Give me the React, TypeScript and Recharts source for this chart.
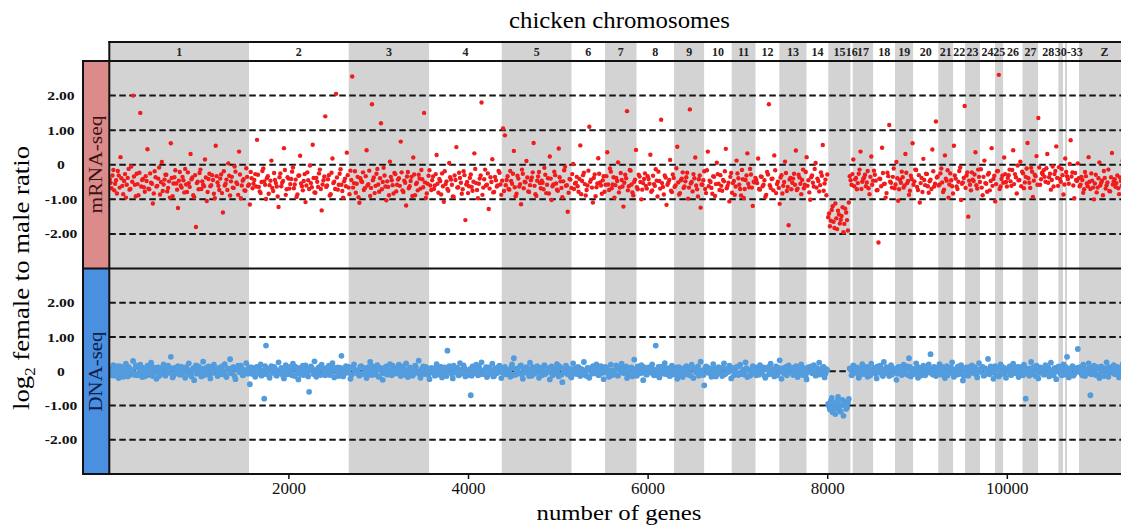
import React from "react";
import {
  ScatterChart,
  Scatter,
  XAxis,
  YAxis,
  ReferenceArea,
  ReferenceLine,
} from "recharts";

// chromosome bands, start gene index of each one (ordered along the genome)
const chromosomeNames = [
  "1", "2", "3", "4", "5", "6", "7", "8", "9", "10", "11", "12", "13", "14", "15", "16", "17",
  "18", "19", "20", "21", "22", "23", "24", "25", "26", "27", "28", "30", "31", "32", "33", "Z",
];
const chromosomeStarts = [
  0, 1556, 2666, 3563, 4370, 5149, 5520, 5873, 6288, 6626, 6931, 7198, 7461, 7766, 8006, 8255, 8278,
  8508, 8749, 8953, 9231, 9398, 9529, 9696, 9863, 9955, 10169, 10345, 10568, 10620, 10642, 10665, 10798,
];
const GENE_MAX = 11366;
// the small chromosomes share one label in the header
const groupedLabels = [{ label: "30-33", from: "30", to: "33" }];

const ratioTicks = [2, 1, 0, -1, -2];
const geneTicks = [2000, 4000, 6000, 8000, 10000];

// log2 female/male ratios, read every GENE_STEP genes; the "B" lists sit halfway between
const GENE_STEP = 20;

const mrnaRatiosA = [
  -0.42, -0.68, -0.15, -0.55, -0.83, -0.31, 0.22, -0.61, -0.47, -0.95, -0.38, -0.72, -0.05, 2.0, -0.58, -0.26, -0.88, 1.5, -0.44, -0.65,
  -0.33, 0.45, -0.71, -0.52, -1.12, -0.19, -0.63, -0.4, -0.86, 0.08, -0.57, -0.29, -0.77, -0.48, 0.62, -0.91, -0.36, -0.54, -1.25, -0.21,
  -0.66, -0.45, -0.12, -0.79, -0.53, 0.31, -0.37, -0.94, -1.8, -0.49, -0.24, -0.7, -0.58, 0.15, -1.05, -0.41, -0.62, -0.3, -0.84, 0.55,
  -0.51, -0.73, -0.28, -1.38, -0.6, -0.43, 0.04, -0.89, -0.35, -0.67, -0.2, -0.56, 0.38, -0.97, -0.46, -0.74, -0.1, -0.61, -1.15, -0.39,
  -0.55, -0.27, 0.72, -0.64, -0.82, -0.18, -0.48, -0.99, -0.33, -0.59, 0.12, -0.76, -0.44, -0.63, -1.22, -0.25, -0.52, 0.48, -0.87, -0.36,
  -0.69, -0.41, -0.08, -0.57, -0.93, -0.32, 0.26, -0.62, -0.47, -1.08, -0.22, -0.7, -0.53, 0.58, -0.8, -0.38, -0.64, -0.14, -1.32, -0.45,
  1.4, -0.6, -0.3, -0.85, 0.18, -0.49, 2.05, -0.72, -0.26, -0.58, -0.95, -0.4, 0.35, -0.66, -0.17, 2.55, -0.53, -0.81, -0.35, -1.1,
  -0.47, -0.22, -0.68, 0.42, -0.56, -0.9, 1.75, -0.37, -0.61, -0.12, -0.78, 1.2, -0.5, -0.31, -1.03, -0.64, 0.09, -0.45, -0.83, -0.27,
  -0.58, -0.39, 0.67, -0.74, -0.46, -1.18, -0.21, -0.62, -0.35, 0.21, -0.88, -0.52, -0.29, -0.69, -0.42, 1.5, -0.96, -0.55, -0.16, -0.73,
  -0.34, -0.6, 0.28, -0.81, -0.47, -0.25, -1.07, -0.56, -0.7, 0.05, -0.43, -0.92, -0.31, 0.51, -0.65, -0.38, -0.84, -0.19, -1.6, -0.5,
  -0.62, -0.28, -0.75, 0.33, -0.53, -0.97, -0.4, 1.8, -0.66, -0.14, -0.58, -1.28, -0.36, 0.16, -0.79, -0.45, -0.6, -0.23, -0.87, 1.05,
  0.85, -0.44, -0.7, -0.18, -0.55, 0.4, -0.91, -0.32, -0.63, -1.14, -0.26, -0.49, 0.11, -0.77, -0.59, -0.37, 0.63, -0.85, -0.46, -0.21,
  -0.68, -0.52, -0.09, -0.82, -0.39, 0.24, -1.02, -0.57, -0.3, -0.72, 0.47, -0.48, -0.94, -0.16, -0.61, -1.36, -0.41, -0.67, 0.02, -0.54,
  -0.35, -0.78, 0.56, -0.47, -0.23, -0.89, -0.6, 1.1, -0.43, -1.09, -0.28, -0.65, 0.19, -0.51, -0.84, -0.33, -0.58, 0.36, -0.73, -0.2,
  -0.57, -0.95, -0.38, 0.07, -0.66, -0.44, -1.21, -0.29, 1.55, -0.62, -0.17, -0.8, -0.49, 0.43, -0.71, -0.34, -1.0, -0.53, -0.25, -0.69,
  -0.41, 0.29, -0.74, -0.56, -0.13, -0.92, -0.47, 1.3, -0.64, -0.31, -1.16, -0.52, 0.14, -0.79, -0.38, -0.6, 0.52, -0.86, -0.45, -0.22,
  -0.63, -0.36, -0.98, 1.6, -0.5, -0.27, 0.21, -0.71, -0.42, -1.24, -0.58, -0.19, -0.82, 0.38, -0.46, -0.67, -0.33, -0.9, 0.06, -0.55,
  -0.3, -0.75, -0.48, 0.46, -0.61, -1.06, -0.24, -0.53, -0.87, 0.12, -0.39, -0.7, -0.15, -0.96, -0.44, 0.33, -0.65, -0.28, -1.19, -0.51,
  -0.44, 0.18, -0.72, -0.35, -0.58, -0.93, -0.21, 1.75, -0.67, -0.4, 0.27, -0.82, -0.49, -1.13, -0.3, -0.61, 0.09, -0.76, -1.75, -0.38,
  -0.52, -0.26, 0.41, -0.69, -0.37, -0.85, -0.14, -0.58, 0.22, -0.45, -1.01, -0.31, -0.63, 0.05, -0.4, -0.77, -0.22, 0.57, -0.54, -0.88,
  -1.52, -1.78, -1.31, -1.65, -1.12, -1.86, -1.44, -1.59, -1.23, -1.71, -1.38, -1.9, -0.33, -0.58, 0.15, -0.42, -0.71, -0.26, 0.38, -0.49,
  -0.37, -0.62, -0.18, -0.85, 0.24, -0.46, -0.29, -0.74, -2.25, -0.41, 0.49, -0.56, -0.95, -0.23, 1.15, -0.52, -0.35, -0.68, 0.08, -1.04,
  -0.44, -0.2, -0.66, 0.31, -0.53, -0.87, -0.32, 0.62, -0.48, -0.15, -0.73, -1.09, -0.38, 0.17, -0.59, -0.27, -0.81, -0.43, 0.44, -0.63,
  1.25, -0.34, -0.57, -0.11, -0.79, 0.27, -0.46, -0.95, -0.25, -0.62, 0.55, -0.4, -0.7, -0.18, -1.02, -0.51, 1.7, -0.31, -1.5, -0.58,
  -0.22, -0.47, 0.36, -0.69, -0.35, -0.13, -0.88, 0.12, -0.55, -0.28, -0.74, 0.48, -0.41, -1.06, -0.19, 2.6, -0.63, -0.32, 0.21, -0.5,
  -0.38, -0.14, -0.61, 0.42, -0.27, -0.83, -0.45, 0.09, -0.2, -0.68, -0.35, 0.63, -0.52, -0.09, -0.93, -0.29, 0.25, 1.35, -0.58, -0.24,
  -0.16, -0.49, 0.31, -0.36, -0.72, -0.05, -0.27, 0.53, -0.61, -0.41, -0.12, -0.86, 0.18, -0.33, -0.55, 0.71, -0.22, -0.97, -0.44, 0.04,
  -0.62, -0.35, -0.81, -0.21, -0.54, 0.22, -0.7, -0.46, -1.0, -0.29, -0.66, 0.07, -0.52, -0.88, -0.38, -0.59, -0.14, -0.77, 0.34, -0.48,
  -0.64, -0.31, -0.85, -0.47, 0.12, -0.57, -0.73, -0.4,
];

const mrnaRatiosB = [
  -0.52, -0.31, -0.74, -0.45, -0.18, -0.66, -0.39, -0.85, -0.27, -0.58, -0.12, -0.7, -0.49, -0.34, -0.91, -0.56, -0.23, -0.63, -0.41, -0.78,
  -0.47, -0.69, -0.25, -0.55, -0.83, -0.36, -0.61, -0.08, -0.5, -0.76, -0.43, -0.29, -0.67, -0.95, -0.38, -0.54, -0.16, -0.72, -0.46, -0.6,
  -0.35, -0.8, -0.57, -0.22, -0.64, -0.42, -0.88, -0.3, -0.53, -0.71, -0.14, -0.48, -0.62, -0.37, -0.79, -0.26, -0.59, -0.44, -0.97, -0.33,
  -0.61, -0.4, -0.82, -0.19, -0.55, -0.73, -0.32, -0.48, -0.66, -0.05, -0.51, -0.87, -0.28, -0.6, -0.42, -0.75, -0.35, -0.57, -0.21, -0.68,
  -0.44, -0.63, -0.29, -0.77, -0.5, -0.11, -0.58, -0.39, -0.84, -0.46, -0.67, -0.24, -0.53, -0.92, -0.36, -0.62, -0.47, -0.15, -0.71, -0.4,
  -0.56, -0.2, -0.68, -0.43, -0.86, -0.31, -0.54, -0.74, -0.27, -0.6, -0.45, -0.02, -0.65, -0.38, -0.81, -0.49, -0.25, -0.7, -0.57, -0.34,
  -0.64, -0.42, -0.89, -0.23, -0.53, -0.7, -0.37, -0.58, -0.13, -0.76, -0.48, -0.62, -0.3, -0.85, -0.44, -0.66, -0.19, -0.55, -0.94, -0.39,
  -0.5, -0.73, -0.33, -0.6, -0.17, -0.67, -0.45, -0.82, -0.26, -0.57, -0.39, -0.71, -0.09, -0.63, -0.48, -0.88, -0.35, -0.59, -0.24, -0.77,
  -0.43, -0.61, -0.22, -0.79, -0.52, -0.34, -0.68, -0.47, -0.9, -0.28, -0.56, -0.74, -0.4, -0.15, -0.65, -0.51, -0.83, -0.32, -0.6, -0.45,
  -0.7, -0.27, -0.55, -0.41, -0.86, -0.62, -0.19, -0.48, -0.75, -0.36, -0.58, -0.93, -0.44, -0.66, -0.23, -0.52, -0.71, -0.3, -0.57, -0.82,
  -0.38, -0.64, -0.49, -0.12, -0.73, -0.55, -0.31, -0.87, -0.42, -0.6, -0.25, -0.69, -0.5, -0.8, -0.35, -0.63, -0.18, -0.57, -0.46, -0.76,
  -0.59, -0.33, -0.72, -0.47, -0.26, -0.65, -0.84, -0.4, -0.56, -0.14, -0.68, -0.51, -0.37, -0.79, -0.45, -0.22, -0.61, -0.9, -0.34, -0.53,
  -0.46, -0.71, -0.29, -0.58, -0.83, -0.4, -0.62, -0.2, -0.54, -0.75, -0.36, -0.67, -0.48, -0.06, -0.59, -0.81, -0.43, -0.27, -0.7, -0.52,
  -0.62, -0.41, -0.85, -0.3, -0.56, -0.73, -0.17, -0.49, -0.66, -0.38, -0.91, -0.54, -0.26, -0.6, -0.45, -0.78, -0.33, -0.57, -0.11, -0.68,
  -0.36, -0.59, -0.47, -0.8, -0.24, -0.63, -0.52, -0.39, -0.74, -0.15, -0.57, -0.88, -0.43, -0.65, -0.29, -0.5, -0.72, -0.41, -0.61, -0.33,
  -0.55, -0.78, -0.32, -0.61, -0.46, -0.2, -0.69, -0.53, -0.86, -0.37, -0.58, -0.44, -0.75, -0.28, -0.64, -0.1, -0.51, -0.82, -0.4, -0.67,
  -0.48, -0.23, -0.66, -0.54, -0.77, -0.39, -0.6, -0.92, -0.31, -0.57, -0.45, -0.7, -0.16, -0.62, -0.5, -0.84, -0.35, -0.56, -0.27, -0.73,
  -0.61, -0.44, -0.19, -0.68, -0.52, -0.35, -0.81, -0.47, -0.63, -0.25, -0.58, -0.89, -0.42, -0.7, -0.31, -0.55, -0.12, -0.66, -0.49, -0.38,
  -0.53, -0.7, -0.34, -0.62, -0.45, -0.87, -0.28, -0.59, -0.41, -0.74, -0.16, -0.56, -0.67, -0.37, -0.83, -0.5, -0.24, -0.64, -0.43, -0.71,
  -0.4, -0.58, -0.73, -0.29, -0.55, -0.44, -0.68, -0.21, -0.61, -0.8, -0.36, -0.52, -0.12, -0.66, -0.47, -0.59, -0.32, -0.75, -0.43, -0.28,
  -1.41, -1.62, -1.2, -1.83, -1.55, -1.33, -1.7, -1.48, -1.95, -1.27, -1.6, -1.09, -0.45, -0.27, -0.62, -0.38, -0.53, -0.14, -0.7, -0.41,
  -0.29, -0.51, -0.68, -0.35, -0.58, -0.17, -0.46, -0.73, -0.4, -0.62, -0.24, -0.55, -0.82, -0.33, -0.49, -0.66, -0.11, -0.57, -0.39, -0.71,
  -0.52, -0.36, -0.6, -0.23, -0.47, -0.75, -0.41, -0.58, -0.14, -0.64, -0.3, -0.53, -0.79, -0.44, -0.26, -0.62, -0.48, -0.7, -0.19, -0.55,
  -0.37, -0.6, -0.25, -0.51, -0.72, -0.4, -0.16, -0.57, -0.45, -0.83, -0.31, -0.63, -0.49, -0.08, -0.55, -0.38, -0.67, -0.22, -0.46, -0.74,
  -0.43, -0.28, -0.59, -0.14, -0.5, -0.66, -0.35, -0.53, -0.78, -0.24, -0.47, -0.61, -0.32, -0.56, -0.18, -0.7, -0.41, -0.52, -0.27, -0.63,
  -0.3, -0.48, -0.15, -0.56, -0.36, -0.02, -0.44, -0.62, -0.25, -0.51, -0.11, -0.39, -0.67, -0.2, -0.46, -0.33, -0.58, -0.08, -0.42, -0.28,
  -0.35, -0.1, -0.52, -0.26, -0.44, -0.63, -0.18, -0.38, -0.07, -0.49, -0.3, -0.57, -0.21, -0.41, 0.02, -0.34, -0.6, -0.24, -0.47, -0.39,
  -0.58, -0.44, -0.71, -0.33, -0.62, -0.49, -0.25, -0.66, -0.54, -0.8, -0.39, -0.6, -0.46, -0.18, -0.69, -0.51, -0.76, -0.36, -0.57, -0.42,
  -0.53, -0.68, -0.37, -0.61, -0.45, -0.78, -0.29, -0.56,
];

const dnaRatiosA = [
  0.05, -0.12, 0.18, -0.03, 0.09, -0.2, 0.14, 0.01, -0.08, 0.22, -0.15, 0.07, -0.02, 0.3, -0.11, 0.12, -0.06, 0.19, -0.17, 0.03,
  -0.09, 0.16, -0.01, 0.25, -0.14, 0.08, -0.22, 0.11, 0.02, -0.07, 0.2, -0.13, 0.06, -0.04, 0.42, -0.18, 0.1, -0.05, 0.15, -0.1,
  0.13, -0.02, -0.19, 0.07, 0.23, -0.11, 0.04, -0.26, 0.17, -0.06, 0.09, -0.15, 0.28, 0.0, -0.09, 0.14, -0.21, 0.05, 0.19, -0.03,
  -0.14, 0.1, 0.02, -0.08, 0.21, -0.17, 0.06, 0.35, -0.04, 0.12, -0.23, 0.08, -0.01, 0.16, -0.12, 0.03, 0.24, -0.07, -0.38, 0.11,
  0.04, -0.16, 0.13, -0.05, 0.2, -0.1, -0.8, 0.75, 0.07, -0.19, 0.15, -0.02, 0.09, -0.13, 0.26, -0.06, 0.01, -0.21, 0.18, -0.09,
  0.12, -0.04, 0.22, -0.14, 0.06, -0.24, 0.1, 0.03, -0.11, 0.17, -0.07, -0.6, 0.14, -0.01, 0.29, -0.16, 0.08, -0.09, 0.19, -0.03,
  -0.12, 0.07, 0.16, -0.06, 0.24, -0.18, 0.02, 0.11, -0.09, 0.45, -0.15, 0.05, -0.02, 0.13, -0.22, 0.09, 0.2, -0.05, 0.01, -0.13,
  0.15, -0.08, 0.04, -0.2, 0.12, 0.27, -0.11, 0.06, -0.03, 0.18, -0.16, 0.09, -0.25, 0.02, 0.14, -0.07, 0.21, -0.12, 0.05, -0.01,
  -0.06, 0.19, -0.14, 0.08, -0.02, 0.23, -0.17, 0.11, 0.03, -0.1, 0.16, -0.04, 0.31, -0.19, 0.07, -0.08, 0.13, 0.0, -0.23, 0.1,
  0.08, -0.13, 0.21, -0.05, 0.12, -0.18, 0.03, -0.09, 0.6, 0.15, -0.02, -0.21, 0.1, 0.05, -0.11, 0.24, -0.06, 0.17, -0.15, 0.01,
  -0.1, -0.7, 0.14, -0.03, 0.19, -0.12, 0.07, 0.26, -0.08, 0.02, -0.17, 0.11, -0.05, 0.22, -0.14, 0.06, -0.01, 0.16, -0.2, 0.09,
  0.13, -0.06, 0.02, -0.16, 0.2, 0.38, -0.1, 0.08, -0.03, 0.17, -0.22, 0.05, 0.12, -0.08, 0.25, -0.13, 0.01, -0.04, 0.15, -0.19,
  0.06, -0.11, 0.18, -0.02, 0.09, -0.24, 0.14, 0.04, -0.07, 0.21, -0.15, 0.1, -0.32, 0.03, 0.16, -0.09, 0.07, -0.18, 0.23, -0.05,
  -0.08, 0.12, -0.14, 0.05, 0.27, -0.03, 0.1, -0.19, 0.01, 0.15, -0.06, 0.2, -0.11, 0.08, -0.01, -0.23, 0.13, 0.04, -0.16, 0.19,
  0.02, -0.09, 0.17, -0.13, 0.06, 0.22, -0.05, 0.11, -0.2, 0.09, 0.03, -0.15, 0.34, -0.07, 0.14, -0.02, 0.18, -0.26, 0.07, -0.1,
  0.11, -0.04, 0.2, -0.12, 0.75, 0.05, -0.18, 0.13, -0.07, 0.24, -0.01, 0.09, -0.14, 0.16, -0.09, 0.03, -0.22, 0.12, 0.06, -0.17,
  -0.05, 0.15, -0.1, 0.07, 0.19, -0.2, 0.02, 0.1, -0.13, 0.28, -0.06, -0.41, 0.14, -0.02, 0.08, -0.16, 0.21, 0.04, -0.09, 0.12,
  0.07, -0.14, 0.23, -0.06, 0.01, 0.16, -0.21, 0.09, -0.03, 0.13, -0.11, 0.19, -0.08, 0.05, 0.26, -0.17, 0.03, -0.1, 0.15, -0.02,
  -0.12, 0.08, 0.18, -0.04, 0.11, -0.19, 0.06, -0.09, 0.22, 0.0, -0.15, 0.14, -0.06, 0.32, -0.22, 0.09, 0.04, -0.12, 0.17, -0.03,
  0.1, -0.07, 0.15, -0.17, 0.05, 0.2, -0.11, 0.02, -0.24, 0.12, 0.07, -0.05, 0.18, -0.13, 0.03, 0.25, -0.09, 0.11, -0.18, 0.06,
  -0.95, -1.12, -0.78, -1.05, -1.25, -0.88, -1.01, -1.18, -0.84, -0.97, -1.1, -0.92, 0.08, -0.12, 0.17, -0.05, 0.11, -0.19, 0.04, 0.21,
  -0.08, 0.13, -0.16, 0.06, 0.22, -0.03, 0.1, -0.21, 0.01, 0.16, -0.1, 0.27, -0.06, 0.09, -0.14, 0.18, -0.01, 0.05, -0.25, 0.12,
  0.03, -0.11, 0.19, -0.07, 0.14, 0.38, -0.15, 0.07, -0.02, 0.23, -0.19, 0.1, -0.05, 0.16, -0.12, 0.04, 0.2, 0.5, -0.08, 0.13,
  -0.14, 0.06, 0.21, -0.1, 0.02, -0.2, 0.15, 0.09, -0.04, 0.26, -0.16, 0.05, 0.12, -0.08, 0.18, -0.27, 0.01, 0.11, -0.13, 0.07,
  0.17, -0.06, 0.09, -0.18, 0.24, -0.01, 0.13, -0.12, 0.05, 0.36, -0.09, 0.02, -0.22, 0.15, 0.07, -0.15, 0.2, -0.03, 0.1, -0.19,
  0.04, 0.14, -0.11, 0.22, -0.05, 0.08, -0.17, 0.12, -0.02, 0.19, -0.8, 0.06, -0.13, 0.27, -0.08, 0.03, 0.16, -0.21, 0.11, -0.04,
  -0.1, 0.18, 0.01, -0.15, 0.25, -0.06, 0.09, -0.23, 0.13, 0.04, -0.12, 0.2, -0.03, 0.42, -0.18, 0.07, 0.15, -0.09, 0.02, 0.65,
  0.12, -0.07, 0.19, -0.14, 0.05, 0.23, -0.7, -0.02, 0.16, -0.11, 0.08, -0.2, 0.14, 0.01, -0.06, 0.26, -0.16, 0.1, -0.04, 0.18,
  -0.09, 0.13, -0.18, 0.06, 0.21, -0.02, 0.11, -0.14,
];

const dnaRatiosB = [
  -0.04, 0.09, -0.13, 0.02, 0.15, -0.08, 0.06, -0.16, 0.11, -0.01, 0.13, -0.1, 0.04, -0.06, 0.17, -0.12, 0.08, -0.03, 0.1, -0.15,
  0.07, -0.11, 0.03, 0.14, -0.06, 0.1, -0.02, -0.14, 0.05, 0.12, -0.09, 0.01, 0.16, -0.05, 0.08, -0.13, 0.03, 0.11, -0.07, 0.04,
  -0.1, 0.06, 0.12, -0.04, 0.02, -0.15, 0.09, 0.01, -0.07, 0.14, -0.02, 0.07, -0.12, 0.1, 0.03, -0.08, 0.13, -0.05, 0.0, 0.08,
  0.05, -0.09, 0.14, -0.02, -0.12, 0.08, 0.03, -0.06, 0.11, -0.14, 0.06, 0.16, -0.03, 0.09, -0.1, 0.02, -0.05, 0.12, 0.04, -0.08,
  -0.03, 0.11, -0.07, 0.06, -0.13, 0.02, 0.15, -0.09, 0.04, 0.09, -0.05, 0.13, -0.11, 0.01, -0.02, 0.1, -0.14, 0.07, -0.04, 0.12,
  0.02, -0.12, 0.08, 0.13, -0.06, 0.04, -0.1, 0.16, -0.01, 0.07, -0.15, 0.05, 0.1, -0.08, 0.03, -0.03, 0.12, -0.11, 0.06, 0.0,
  0.09, -0.05, -0.11, 0.04, 0.12, -0.02, 0.07, -0.14, 0.1, 0.01, -0.08, 0.15, -0.04, 0.06, -0.12, 0.11, -0.01, 0.03, -0.09, 0.13,
  -0.06, 0.1, 0.02, -0.12, 0.07, -0.03, 0.14, -0.09, 0.05, -0.15, 0.09, 0.0, -0.06, 0.12, -0.1, 0.04, -0.02, 0.16, -0.07, 0.08,
  0.11, -0.07, 0.05, 0.15, -0.11, 0.03, -0.04, 0.09, -0.13, 0.06, 0.12, -0.02, -0.09, 0.04, 0.14, -0.06, 0.08, -0.12, 0.02, -0.03,
  -0.02, 0.08, -0.1, 0.03, 0.13, -0.06, 0.11, -0.14, 0.01, 0.07, -0.08, 0.16, -0.04, 0.1, -0.12, 0.05, -0.01, 0.09, 0.02, -0.11,
  0.06, -0.13, 0.1, -0.05, 0.04, 0.14, -0.09, 0.02, -0.03, 0.12, -0.11, 0.07, 0.01, -0.15, 0.09, -0.06, 0.13, -0.02, 0.05, -0.08,
  -0.09, 0.04, -0.01, 0.11, -0.12, 0.07, 0.03, -0.06, 0.15, -0.1, 0.05, -0.03, 0.09, -0.14, 0.02, 0.12, -0.07, 0.08, -0.02, 0.1,
  0.03, 0.13, -0.08, 0.05, -0.02, 0.1, -0.12, 0.08, 0.01, -0.06, 0.14, -0.1, 0.04, -0.04, 0.11, 0.0, -0.13, 0.06, -0.07, 0.09,
  0.12, -0.04, 0.07, -0.1, 0.02, -0.14, 0.09, 0.04, -0.07, 0.13, -0.02, 0.06, -0.11, 0.15, -0.05, 0.03, 0.1, -0.08, 0.01, -0.12,
  -0.07, 0.05, -0.12, 0.1, -0.01, 0.08, -0.05, 0.14, -0.1, 0.03, 0.11, -0.03, 0.06, -0.13, 0.09, -0.06, 0.02, 0.12, -0.09, 0.04,
  0.01, 0.1, -0.06, 0.04, -0.11, 0.13, -0.02, 0.07, 0.15, -0.08, 0.05, -0.13, 0.02, 0.09, -0.04, 0.11, -0.1, 0.06, -0.01, 0.08,
  0.09, -0.08, 0.03, -0.13, 0.11, 0.05, -0.04, 0.14, -0.07, 0.02, -0.11, 0.08, 0.12, -0.05, 0.04, -0.09, 0.07, -0.15, 0.1, -0.01,
  -0.05, 0.11, -0.09, 0.06, -0.02, 0.12, 0.03, -0.12, 0.08, -0.06, 0.15, -0.03, 0.01, -0.1, 0.09, 0.04, -0.13, 0.07, -0.04, 0.11,
  0.04, -0.1, 0.09, 0.02, -0.14, 0.06, 0.12, -0.03, 0.07, -0.09, 0.03, -0.12, 0.1, -0.01, 0.05, -0.07, 0.13, -0.05, 0.08, 0.0,
  -0.11, 0.07, -0.03, 0.12, -0.08, 0.02, 0.09, -0.13, 0.05, -0.02, 0.14, -0.06, 0.01, 0.1, -0.1, 0.06, -0.04, 0.13, -0.07, 0.03,
  -1.03, -0.86, -1.2, -0.93, -1.08, -0.75, -1.15, -0.99, -1.3, -0.9, -1.06, -0.81, 0.05, -0.09, 0.12, -0.02, 0.07, -0.13, 0.1, -0.04,
  0.08, -0.05, 0.11, -0.12, 0.03, 0.06, -0.08, 0.14, -0.03, 0.09, -0.14, 0.02, 0.12, -0.06, 0.05, -0.1, 0.08, 0.01, -0.07, 0.13,
  -0.06, 0.1, -0.02, 0.05, -0.11, 0.13, 0.01, -0.09, 0.07, -0.04, 0.11, -0.13, 0.04, 0.08, -0.07, 0.15, -0.03, 0.06, -0.1, 0.02,
  0.1, -0.08, 0.04, 0.13, -0.05, 0.07, -0.12, 0.02, 0.11, -0.06, 0.03, -0.1, 0.14, -0.02, 0.06, -0.14, 0.09, -0.04, 0.12, -0.01,
  -0.03, 0.12, -0.09, 0.05, -0.01, 0.1, -0.13, 0.08, 0.02, -0.07, 0.14, -0.04, 0.06, -0.11, 0.09, 0.03, -0.08, 0.11, -0.05, 0.04,
  0.07, -0.1, 0.02, 0.09, -0.06, 0.13, -0.03, 0.05, -0.12, 0.11, 0.0, -0.08, 0.08, -0.02, 0.12, -0.14, 0.06, -0.05, 0.1, 0.03,
  -0.08, 0.06, 0.11, -0.04, 0.03, -0.12, 0.09, -0.01, 0.14, -0.07, 0.05, -0.1, 0.12, 0.02, -0.05, 0.08, -0.13, 0.04, 0.1, -0.02,
  0.05, -0.12, 0.08, 0.02, -0.06, 0.11, -0.09, 0.04, -0.03, 0.13, -0.1, 0.07, 0.0, -0.14, 0.09, -0.05, 0.12, -0.01, 0.06, -0.08,
  0.03, -0.07, 0.1, -0.11, 0.05, 0.08, -0.04, 0.01,
];

const W = 1140;
const H = 527;
const PLOT_LEFT = 109.3;
const PLOT_RIGHT = 1130;
const GRAY = "#d3d3d3";
const FONT = "'Liberation Serif', 'Times New Roman', serif";

const bands = chromosomeNames.map((name, i) => ({
  name,
  x1: chromosomeStarts[i],
  x2: i + 1 < chromosomeStarts.length ? chromosomeStarts[i + 1] : GENE_MAX,
  fill: i % 2 === 0 ? GRAY : "#ffffff",
}));
const grouped = new Set(["30", "31", "32", "33"]);

// header label anchors: middle of each band (or of a group of small bands)
const headerLabels = [
  ...bands.filter((b) => !grouped.has(b.name)).map((b) => ({ label: b.name, gene: (b.x1 + b.x2) / 2, y: 0.5 })),
  ...groupedLabels.map((g) => {
    const from = bands.find((b) => b.name === g.from)!;
    const to = bands.find((b) => b.name === g.to)!;
    return { label: g.label, gene: (from.x1 + to.x2) / 2, y: 0.5 };
  }),
];

const toPoints = (a: number[], b: number[]) => [
  ...a.map((ratio, i) => ({ gene: i * GENE_STEP + 5, ratio })),
  ...b.map((ratio, i) => ({ gene: i * GENE_STEP + 15, ratio })),
];
const mrnaPoints = toPoints(mrnaRatiosA, mrnaRatiosB);
const dnaPoints = toPoints(dnaRatiosA, dnaRatiosB);

const fmtRatio = (v: number) => (v === 0 ? "0" : v.toFixed(2));

const RatioTick = (props: any) => {
  const { y, payload } = props;
  return (
    <text
      transform={`translate(61 ${y + 4.5}) scale(1.2 1)`}
      textAnchor="middle"
      fontSize={13}
      fontWeight="bold"
      fill="#111"
      fontFamily={FONT}
    >
      {fmtRatio(payload.value)}
    </text>
  );
};

const dot = (fill: string, r: number) => (props: any) =>
  <circle cx={props.cx} cy={props.cy} r={r} fill={fill} />;

const headerText = (props: any) => (
  <text
    x={props.cx}
    y={props.cy + 4.5}
    textAnchor="middle"
    fontSize={12}
    fontWeight="bold"
    fill="#222"
    fontFamily={FONT}
  >
    {props.payload.label}
  </text>
);

const HeaderStrip = () => (
  <ScatterChart
    width={W}
    height={H}
    margin={{ top: 42, right: W - PLOT_RIGHT, bottom: H - 61, left: PLOT_LEFT }}
  >
    <XAxis type="number" dataKey="gene" domain={[0, GENE_MAX]} allowDataOverflow hide height={0} />
    <YAxis type="number" dataKey="y" domain={[0, 1]} hide width={0} />
    {bands.map((b) => (
      <ReferenceArea
        key={b.name}
        x1={b.x1}
        x2={b.x2}
        y1={0}
        y2={1}
        fill={b.fill}
        fillOpacity={1}
        stroke="none"
      />
    ))}
    <Scatter data={headerLabels} shape={headerText} isAnimationActive={false} />
  </ScatterChart>
);

interface PanelProps {
  data: { gene: number; ratio: number }[];
  color: string;
  radius: number;
  top: number;
  bottom: number;
  showGeneAxis: boolean;
}

const Panel = ({ data, color, radius, top, bottom, showGeneAxis }: PanelProps) => (
  <ScatterChart
    width={W}
    height={H}
    margin={{ top, right: W - PLOT_RIGHT, bottom: showGeneAxis ? 0 : H - bottom, left: 0 }}
  >
    <XAxis
      type="number"
      dataKey="gene"
      domain={[0, GENE_MAX]}
      allowDataOverflow
      ticks={geneTicks}
      hide={!showGeneAxis}
      height={showGeneAxis ? H - bottom : 0}
      axisLine={false}
      tickLine={{ stroke: "#111", strokeWidth: 1.5 }}
      tickSize={5}
      tickMargin={3}
      tick={{ fontSize: 17, fill: "#111", fontFamily: FONT }}
    />
    <YAxis
      type="number"
      dataKey="ratio"
      domain={[-3, 3]}
      allowDataOverflow
      ticks={ratioTicks}
      interval={0}
      width={PLOT_LEFT}
      axisLine={false}
      tickLine={false}
      tick={<RatioTick />}
    />
    {bands.map((b) => (
      <ReferenceArea
        key={b.name}
        x1={b.x1}
        x2={b.x2}
        y1={-3}
        y2={3}
        fill={b.fill}
        fillOpacity={1}
        stroke="none"
      />
    ))}
    {ratioTicks.map((t) => (
      <ReferenceLine key={t} y={t} stroke="#151515" strokeWidth={2} strokeDasharray="6.5 3.5" />
    ))}
    <Scatter data={data} fill={color} shape={dot(color, radius)} isAnimationActive={false} />
  </ScatterChart>
);

const layer: React.CSSProperties = { position: "absolute", left: 0, top: 0 };

const Frame = () => (
  <svg width={1121} height={H} style={{ ...layer, pointerEvents: "none" }} fontFamily={FONT}>
    <text x={619.5} y={28} textAnchor="middle" fontSize={23} fill="#000" textLength={221} lengthAdjust="spacingAndGlyphs">
      chicken chromosomes
    </text>
    <text x={619} y={520} textAnchor="middle" fontSize={22} fill="#000" textLength={165} lengthAdjust="spacingAndGlyphs">
      number of genes
    </text>
    <text
      transform="translate(29 278) rotate(-90)"
      textAnchor="middle"
      fontSize={24}
      fill="#000"
      textLength={264}
      lengthAdjust="spacingAndGlyphs"
    >
      log<tspan fontSize={15} dy={6}>2</tspan>
      <tspan dy={-6}> female to male ratio</tspan>
    </text>

    <rect x={83} y={61} width={PLOT_LEFT - 83} height={207.5} fill="#dc8b8b" />
    <rect x={83} y={268.5} width={PLOT_LEFT - 83} height={205.5} fill="#4a8fe0" />
    <text transform="translate(102 164.5) rotate(-90)" textAnchor="middle" fontSize={19} fill="#3a1414" textLength={98} lengthAdjust="spacingAndGlyphs">
      mRNA-seq
    </text>
    <text transform="translate(102 371.5) rotate(-90)" textAnchor="middle" fontSize={19} fill="#0c1f4a" textLength={80} lengthAdjust="spacingAndGlyphs">
      DNA-seq
    </text>

    <g stroke="#111" strokeWidth={2}>
      <line x1={PLOT_LEFT - 1} y1={42} x2={1121} y2={42} />
      <line x1={82} y1={61} x2={1121} y2={61} />
      <line x1={82} y1={268.5} x2={1121} y2={268.5} />
      <line x1={82} y1={474} x2={1121} y2={474} />
      <line x1={PLOT_LEFT} y1={41} x2={PLOT_LEFT} y2={475} />
      <line x1={83} y1={60} x2={83} y2={475} />
    </g>
  </svg>
);

const App: React.FC = () => (
  <div
    style={{
      position: "absolute",
      left: 0,
      top: 0,
      width: 1121,
      height: H,
      overflow: "hidden",
      background: "#fff",
      fontFamily: FONT,
    }}
  >
    <div style={layer}>
      <HeaderStrip />
    </div>
    <div style={layer}>
      <Panel data={mrnaPoints} color="#f21b1b" radius={2.2} top={61} bottom={268.5} showGeneAxis={false} />
    </div>
    <div style={layer}>
      <Panel data={dnaPoints} color="#529cde" radius={2.9} top={268.5} bottom={474} showGeneAxis />
    </div>
    <Frame />
  </div>
);

export default App;
